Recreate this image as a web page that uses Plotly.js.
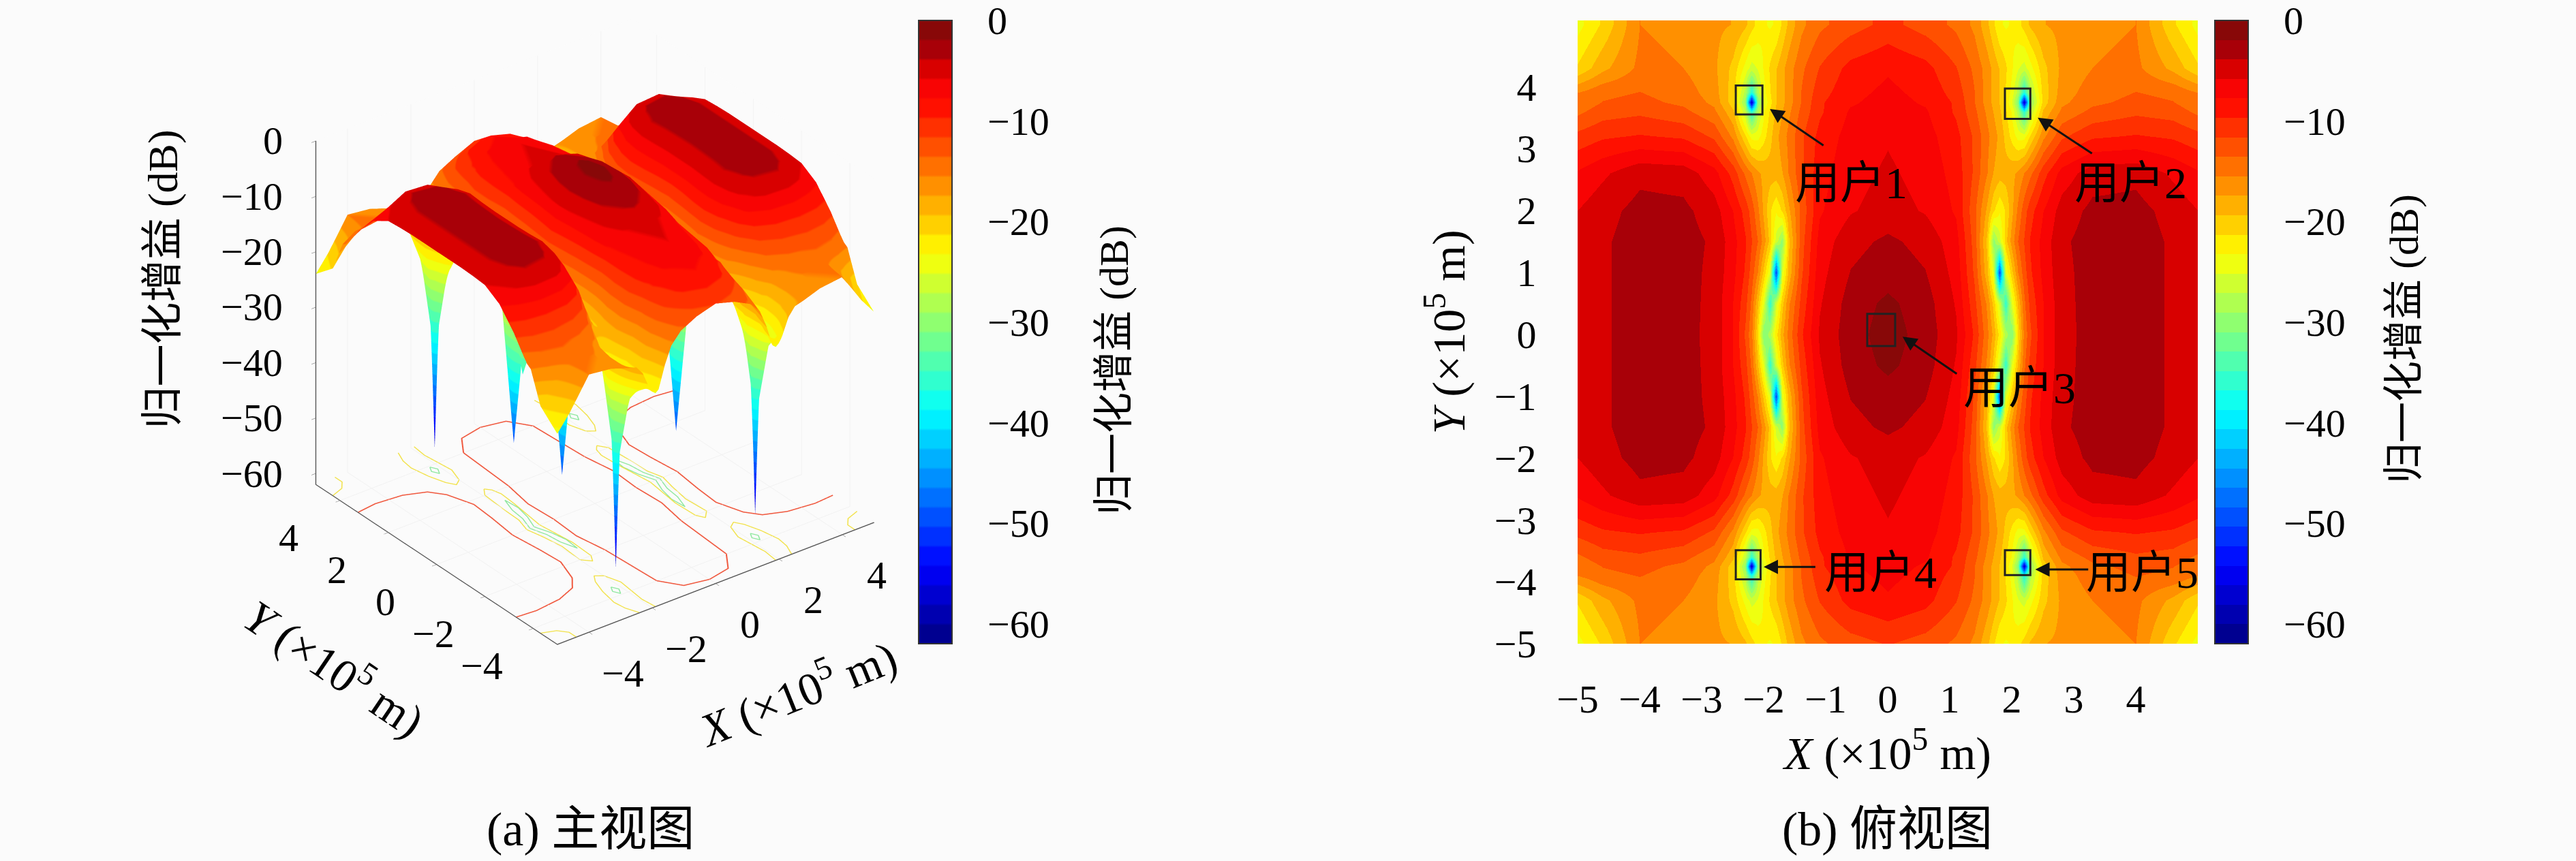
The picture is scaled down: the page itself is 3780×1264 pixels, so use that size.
<!DOCTYPE html>
<html><head><meta charset="utf-8">
<script src="https://cdn.plot.ly/plotly-3.0.1.min.js"></script>
<style>html,body{margin:0;padding:0;background:#fbfbfb}</style></head>
<body><div id="chart" style="width:3780px;height:1264px"></div>
<script>
const xNodes=[-5,-4.6,-4,-3.3,-2.8,-2.5,-2.3,-2.2,-2.1,-2,-1.9,-1.8,-1.7,-1.6,-1.4,-1.1,-0.6,0,0.6,1.1,1.4,1.6,1.7,1.8,1.9,2,2.1,2.2,2.3,2.5,2.8,3.3,4,4.6,5];
const yNodes=[-5,-4.3,-3.9,-3.75,-3.6,-3.2,-2.6,-2,-1.5,-1,-0.5,0,0.5,1,1.5,2,2.6,3.2,3.6,3.75,3.9,4.3,5];
const gainDb=[
[-24,-21,-15.5,-16,-17,-17.5,-19,-20.5,-22,-23,-23.5,-23,-21,-19,-16,-14,-12.5,-11.5,-12.5,-14,-16,-19,-21,-23,-23.5,-23,-22,-20.5,-19,-17.5,-17,-16,-15.5,-21,-24],
[-21,-18,-15,-15.5,-17,-20,-24,-26,-25,-23,-21,-19.5,-18,-16.5,-14,-11.5,-9,-8,-9,-11.5,-14,-16.5,-18,-19.5,-21,-23,-25,-26,-24,-20,-17,-15.5,-15,-18,-21],
[-15.5,-14,-13.5,-14.5,-16.5,-20.5,-28,-37,-28,-24,-21.5,-19.5,-18,-16.5,-13.5,-10.5,-8.3,-7.3,-8.3,-10.5,-13.5,-16.5,-18,-19.5,-21.5,-24,-28,-37,-28,-20.5,-16.5,-14.5,-13.5,-14,-15.5],
[-15,-13.5,-13,-14,-16,-20.5,-30,-58,-31,-25,-22,-19.5,-18,-16.5,-13.5,-10,-8,-7,-8,-10,-13.5,-16.5,-18,-19.5,-22,-25,-31,-58,-30,-20.5,-16,-14,-13,-13.5,-15],
[-14,-12.5,-12,-13,-15,-19,-27,-36,-28,-23.5,-21,-19,-17.5,-16,-13,-10,-7.5,-6.8,-7.5,-10,-13,-16,-17.5,-19,-21,-23.5,-28,-36,-27,-19,-15,-13,-12,-12.5,-14],
[-11,-10,-9.5,-10,-12,-16,-21,-24,-24,-22,-20,-18,-16.5,-15,-12,-9,-7,-6,-7,-9,-12,-15,-16.5,-18,-20,-22,-24,-24,-21,-16,-12,-10,-9.5,-10,-11],
[-7.5,-6.2,-4.4,-4.7,-7,-10.5,-14,-15.5,-17,-18,-18.5,-18.5,-17.5,-15.5,-12,-8.5,-6.5,-5.5,-6.5,-8.5,-12,-15.5,-17.5,-18.5,-18.5,-18,-17,-15.5,-14,-10.5,-7,-4.7,-4.4,-6.2,-7.5],
[-5.8,-4.6,-3.2,-3.4,-4.9,-7.8,-10.5,-12.5,-15,-18,-21,-23,-21,-18,-13,-8,-6,-5,-6,-8,-13,-18,-21,-23,-21,-18,-15,-12.5,-10.5,-7.8,-4.9,-3.4,-3.2,-4.6,-5.8],
[-5.6,-4.2,-2.9,-3.1,-4.2,-7,-9.5,-11.5,-13.5,-16.5,-20,-26,-30,-20,-12.5,-7,-4.5,-3.5,-4.5,-7,-12.5,-20,-30,-26,-20,-16.5,-13.5,-11.5,-9.5,-7,-4.2,-3.1,-2.9,-4.2,-5.6],
[-5.5,-4.2,-2.9,-3.1,-4.4,-7.2,-10,-12.5,-15.5,-20,-25,-50,-25,-19,-12,-6.5,-3.8,-2.8,-3.8,-6.5,-12,-19,-25,-50,-25,-20,-15.5,-12.5,-10,-7.2,-4.4,-3.1,-2.9,-4.2,-5.5],
[-5.5,-4.2,-2.9,-3.1,-4.5,-7.8,-11,-14,-19,-25,-36,-26,-20,-16,-11,-6,-3,-1.5,-3,-6,-11,-16,-20,-26,-36,-25,-19,-14,-11,-7.8,-4.5,-3.1,-2.9,-4.2,-5.5],
[-5.5,-4.2,-2.9,-3.2,-4.5,-7.8,-12,-15,-21,-31,-28,-22,-18,-15,-10,-5.5,-2.8,-1,-2.8,-5.5,-10,-15,-18,-22,-28,-31,-21,-15,-12,-7.8,-4.5,-3.2,-2.9,-4.2,-5.5],
[-5.5,-4.2,-2.9,-3.1,-4.5,-7.8,-11,-14,-19,-25,-36,-26,-20,-16,-11,-6,-3,-1.5,-3,-6,-11,-16,-20,-26,-36,-25,-19,-14,-11,-7.8,-4.5,-3.1,-2.9,-4.2,-5.5],
[-5.5,-4.2,-2.9,-3.1,-4.4,-7.2,-10,-12.5,-15.5,-20,-25,-50,-25,-19,-12,-6.5,-3.8,-2.8,-3.8,-6.5,-12,-19,-25,-50,-25,-20,-15.5,-12.5,-10,-7.2,-4.4,-3.1,-2.9,-4.2,-5.5],
[-5.6,-4.2,-2.9,-3.1,-4.2,-7,-9.5,-11.5,-13.5,-16.5,-20,-26,-30,-20,-12.5,-7,-4.5,-3.5,-4.5,-7,-12.5,-20,-30,-26,-20,-16.5,-13.5,-11.5,-9.5,-7,-4.2,-3.1,-2.9,-4.2,-5.6],
[-5.8,-4.6,-3.2,-3.4,-4.9,-7.8,-10.5,-12.5,-15,-18,-21,-23,-21,-18,-13,-8,-6,-5,-6,-8,-13,-18,-21,-23,-21,-18,-15,-12.5,-10.5,-7.8,-4.9,-3.4,-3.2,-4.6,-5.8],
[-7.5,-6.2,-4.4,-4.7,-7,-10.5,-14,-15.5,-17,-18,-18.5,-18.5,-17.5,-15.5,-12,-8.5,-6.5,-5.5,-6.5,-8.5,-12,-15.5,-17.5,-18.5,-18.5,-18,-17,-15.5,-14,-10.5,-7,-4.7,-4.4,-6.2,-7.5],
[-11,-10,-9.5,-10,-12,-16,-21,-24,-24,-22,-20,-18,-16.5,-15,-12,-9,-7,-6,-7,-9,-12,-15,-16.5,-18,-20,-22,-24,-24,-21,-16,-12,-10,-9.5,-10,-11],
[-14,-12.5,-12,-13,-15,-19,-27,-36,-28,-23.5,-21,-19,-17.5,-16,-13,-10,-7.5,-6.8,-7.5,-10,-13,-16,-17.5,-19,-21,-23.5,-28,-36,-27,-19,-15,-13,-12,-12.5,-14],
[-15,-13.5,-13,-14,-16,-20.5,-30,-58,-31,-25,-22,-19.5,-18,-16.5,-13.5,-10,-8,-7,-8,-10,-13.5,-16.5,-18,-19.5,-22,-25,-31,-58,-30,-20.5,-16,-14,-13,-13.5,-15],
[-15.5,-14,-13.5,-14.5,-16.5,-20.5,-28,-37,-28,-24,-21.5,-19.5,-18,-16.5,-13.5,-10.5,-8.3,-7.3,-8.3,-10.5,-13.5,-16.5,-18,-19.5,-21.5,-24,-28,-37,-28,-20.5,-16.5,-14.5,-13.5,-14,-15.5],
[-21,-18,-15,-15.5,-17,-20,-24,-26,-25,-23,-21,-19.5,-18,-16.5,-14,-11.5,-9,-8,-9,-11.5,-14,-16.5,-18,-19.5,-21,-23,-25,-26,-24,-20,-17,-15.5,-15,-18,-21],
[-24,-21,-15.5,-16,-17,-17.5,-19,-20.5,-22,-23,-23.5,-23,-21,-19,-16,-14,-12.5,-11,-12.5,-14,-16,-19,-21,-23,-23.5,-23,-22,-20.5,-19,-17.5,-17,-16,-15.5,-21,-24]];
const bandColors=["000090","0000b0","0000d0","0000f0","0010ff","0030ff","0050ff","0070ff","0090ff","00b0ff","00d0ff","00f0ff","10ffef","30ffcf","50ffaf","70ff8f","8fff70","afff50","cfff30","efff10","fff000","ffd000","ffb000","ff9000","ff7000","ff5000","ff3000","ff1000","f80404","d80000","a80008","880808"];
const cbTicks=[0,-10,-20,-30,-40,-50,-60];
const zTicks=[0,-10,-20,-30,-40,-50,-60];
const xTicks3d=[-4,-2,0,2,4];
const yTicks3d=[4,2,0,-2,-4];
const xTicks2d=[-5,-4,-3,-2,-1,0,1,2,3,4];
const yTicks2d=[-5,-4,-3,-2,-1,0,1,2,3,4];
const c10x=[-5,-4.4,-3.6,-3,-2.7,-2.45,-2.5,-2.6,-2.5,-2.45,-2.7,-3,-3.6,-4.4,-5,null,0,-0.7,-1.1,-1.15,-1.2,-1.35,-1.3,-1.35,-1.2,-1.15,-1.1,-0.7,0,0.7,1.1,1.15,1.2,1.35,1.3,1.35,1.2,1.15,1.1,0.7,0,null,5,4.4,3.6,3,2.7,2.45,2.5,2.6,2.5,2.45,2.7,3,3.6,4.4,5];
const c10y=[3.25,3.33,3.25,3,2.6,1.8,1,0,-1,-1.8,-2.6,-3,-3.25,-3.35,-3.3,null,4.75,4.6,4,3,2,1,0,-1,-2,-3,-4,-4.6,-4.75,-4.6,-4,-3,-2,-1,0,1,2,3,4,4.6,4.75,null,3.25,3.33,3.25,3,2.6,1.8,1,0,-1,-1.8,-2.6,-3,-3.25,-3.35,-3.3];
const c20x=[-1.9,-1.95,-1.9,-1.85,-2,-2.2,-2.35,-2.5,-2.6,-2.55,-2.4,null,1.9,1.95,1.9,1.85,2,2.2,2.35,2.5,2.6,2.55,2.4,null,-1.9,-1.95,-1.9,-1.85,-2,-2.2,-2.35,-2.5,-2.6,-2.55,-2.4,null,1.9,1.95,1.9,1.85,2,2.2,2.35,2.5,2.6,2.55,2.4,null,-1.78,-1.95,-2,-2.02,-2.15,-2.05,-1.95,-2,-1.78,-1.65,-1.62,-1.75,-1.62,-1.58,-1.65,-1.78,null,1.78,1.95,2,2.02,2.15,2.05,1.95,2,1.78,1.65,1.62,1.75,1.62,1.58,1.65,1.78,null,-5,-4.6,-4.4,-4.4,null,5,4.6,4.4,4.4,null,-5,-4.6,-4.4,-4.4,null,5,4.6,4.4,4.4];
const c20y=[5,4.5,4,3.5,3,2.85,3.1,3.6,4.2,4.6,5,null,5,4.5,4,3.5,3,2.85,3.1,3.6,4.2,4.6,5,null,-5,-4.5,-4,-3.5,-3,-2.85,-3.1,-3.6,-4.2,-4.6,-5,null,-5,-4.5,-4,-3.5,-3,-2.85,-3.1,-3.6,-4.2,-4.6,-5,null,2.26,2,1.2,0.5,0,-0.5,-1.2,-2,-2.24,-2,-1.2,0,1.2,1.8,2.1,2.26,null,2.26,2,1.2,0.5,0,-0.5,-1.2,-2,-2.24,-2,-1.2,0,1.2,1.8,2.1,2.26,null,4.3,4.45,4.7,5,null,4.3,4.45,4.7,5,null,-4.3,-4.45,-4.7,-5,null,-4.3,-4.45,-4.7,-5];
const c30x=[-1.7,-1.85,-1.9,-2.05,-1.9,-1.85,-1.7,-1.66,-1.75,-1.92,-1.75,-1.66,-1.7,null,1.7,1.85,1.9,2.05,1.9,1.85,1.7,1.66,1.75,1.92,1.75,1.66,1.7,null,-2.2,-2.1,-2.2,-2.3,-2.2,null,2.2,2.1,2.2,2.3,2.2,null,-2.2,-2.1,-2.2,-2.3,-2.2,null,2.2,2.1,2.2,2.3,2.2];
const c30y=[1.5,1,0.5,0,-0.5,-1,-1.5,-1,-0.5,0,0.5,1,1.5,null,1.5,1,0.5,0,-0.5,-1,-1.5,-1,-0.5,0,0.5,1,1.5,null,3.95,3.75,3.55,3.75,3.95,null,3.95,3.75,3.55,3.75,3.95,null,-3.55,-3.75,-3.95,-3.75,-3.55,null,-3.55,-3.75,-3.95,-3.75,-3.55];
const userBoxes=[[-2.45,-2.02,3.55,4.02],[1.89,2.3,3.48,3.97],[-0.33,0.12,-0.19,0.33],[-2.45,-2.05,-3.96,-3.49],[1.89,2.3,-3.89,-3.49]];
const userArrows=[[-1.02,3.04,-1.9,3.64],[3.31,2.91,2.42,3.5],[1.13,-0.65,0.24,-0.04],[-1.15,-3.76,-2,-3.76],[3.25,-3.8,2.38,-3.8]];
const userLabels=[["用户1",-0.59,2.44],["用户2",3.92,2.44],["用户3",2.13,-0.87],["用户4",-0.12,-3.85],["用户5",4.1,-3.85]];

const W=3780,H=1264;
const px=v=>v/W, py=v=>1-v/H;
const scale=[];bandColors.forEach((c,i)=>{scale.push([i/32,'#'+c]);scale.push([(i+1)/32,'#'+c]);});
const glScale=[];bandColors.forEach((c,i)=>{glScale.push([(8*i+0.5)/256,'#'+c]);glScale.push([(8*i+7.5)/256,'#'+c]);});
glScale[0][0]=0;glScale[glScale.length-1][0]=1;
const FONT='Liberation Serif, Noto Sans CJK SC, serif';
const tf={family:FONT,size:58,color:'#000'};
const tfBig={family:FONT,size:68,color:'#000'};
function cb(left){return {x:px(left),xanchor:'left',xpad:0,y:py(30),yanchor:'top',ypad:0,len:915,lenmode:'pixels',thickness:49,thicknessmode:'pixels',
 outlinewidth:2,outlinecolor:'#333',tick0:0,dtick:10,ticks:'outside',ticklen:40,tickcolor:'rgba(0,0,0,0)',tickfont:tf,ticklabeloverflow:'allow'};}
const surf={type:'surface',x:xNodes,y:yNodes,z:gainDb,cmin:-62,cmax:0,colorscale:glScale,colorbar:cb(1348),
 lighting:{ambient:1,diffuse:0,specular:0,roughness:1,fresnel:0},hoverinfo:'skip',showscale:true,scene:'scene'};
const floorLine=(x,y,c,w)=>({type:'scatter3d',mode:'lines',x,y,z:x.map(v=>v===null?null:-62),line:{color:c,width:w},hoverinfo:'skip',showlegend:false,connectgaps:false,scene:'scene'});
const heat={type:'heatmap',x:xNodes,y:yNodes,z:gainDb,zmin:-62,zmax:0,zsmooth:'best',colorscale:scale,colorbar:cb(3250),xaxis:'x',yaxis:'y',hoverinfo:'skip'};
const ax3={showbackground:true,backgroundcolor:'#fbfbfb',showgrid:true,gridcolor:'#f1f1f1',gridwidth:2,showline:true,linecolor:'#555',linewidth:3,ticks:'outside',ticklen:8,tickcolor:'#555',showticklabels:false,zeroline:false,showspikes:false,title:{text:''}};
const shapes=[];
userBoxes.forEach(b=>shapes.push({type:'rect',xref:'x',yref:'y',x0:b[0],x1:b[1],y0:b[2],y1:b[3],line:{color:'#222',width:3}}));
[1397,3299].forEach(r=>cbTicks.forEach(v=>shapes.push({type:'line',xref:'paper',yref:'paper',x0:px(r-10),x1:px(r),y0:py(30+(-v/62)*915),y1:py(30+(-v/62)*915),line:{color:'#333',width:2}})));
const anns=[];
userArrows.forEach(a=>anns.push({xref:'x',yref:'y',axref:'x',ayref:'y',ax:a[0],ay:a[1],x:a[2],y:a[3],text:'',showarrow:true,arrowhead:2,arrowsize:1.4,arrowwidth:3,arrowcolor:'#111',standoff:0}));
userLabels.forEach(l=>anns.push({xref:'x',yref:'y',x:l[1],y:l[2],text:l[0],showarrow:false,font:{family:FONT,size:66,color:'#000'}}));
const t=(text,x,y,ang,size)=>({xref:'paper',yref:'paper',x:px(x),y:py(y),text,showarrow:false,textangle:ang||0,font:{family:FONT,size:size||60,color:'#000'},xanchor:'center',yanchor:'middle'});
anns.push(t('归一化增益 (dB)',1635,544,-90),t('归一化增益 (dB)',3528,498,-90),t('(a) 主视图',866,1217,0,70),t('(b) 俯视图',2769,1217,0,70));
const sceneAnn=[];
const fmt=v=>v<0?'−'+(-v):String(v);
const sa=(x,y,z,text,xs,ys,extra)=>Object.assign({x,y,z,text,showarrow:false,xshift:xs,yshift:ys,font:tf,xanchor:'center',yanchor:'middle'},extra||{});
xTicks3d.forEach(v=>sceneAnn.push(sa(v,-5,-62,fmt(v),50,-60)));
yTicks3d.forEach(v=>sceneAnn.push(sa(-5,v,-62,fmt(v),-75,-55)));
zTicks.forEach(v=>sceneAnn.push(sa(-5,5,v,fmt(v),-46,0,{xanchor:'right'})));
sceneAnn.push(sa(0,-5,-62,'<i>X</i> (×10<sup>5</sup> m)',118,-158,{textangle:-22,font:tfBig}));
sceneAnn.push(sa(-5,0,-62,'<i>Y</i> (×10<sup>5</sup> m)',-148,-149,{textangle:34,font:tfBig}));
sceneAnn.push(sa(-5,5,-31,'归一化增益 (dB)',-224,49,{textangle:-90,font:{family:FONT,size:62,color:'#000'}}));
const R=1.7,A=1.2;
const layout={width:W,height:H,margin:{l:0,r:0,t:0,b:0},paper_bgcolor:'#fbfbfb',plot_bgcolor:'#fbfbfb',showlegend:false,
 scene:{domain:{x:[px(173),px(1573)],y:[py(974),1]},aspectmode:'manual',aspectratio:{x:A,y:A,z:A},
  camera:{projection:{type:'orthographic'},up:{x:0,y:0,z:1},center:{x:0,y:0,z:0},eye:{x:-0.523*R,y:-0.686*R,z:0.505*R}},
  xaxis:{...ax3,range:[-5,5],tickvals:xTicks3d},
  yaxis:{...ax3,range:[-5,5],tickvals:yTicks3d},
  zaxis:{...ax3,range:[-62,0],tickvals:zTicks,showgrid:false},annotations:sceneAnn},
 xaxis:{domain:[px(2315),px(3225)],range:[-5,5],tickvals:xTicks2d,ticks:'outside',ticklen:30,tickcolor:'rgba(0,0,0,0)',showgrid:false,zeroline:false,showline:false,tickfont:tf,title:{text:'<i>X</i> (×10<sup>5</sup> m)',font:tfBig,standoff:20},anchor:'y'},
 yaxis:{domain:[py(945),py(30)],range:[-5,5.07],tickvals:yTicks2d,ticks:'outside',ticklen:48,tickcolor:'rgba(0,0,0,0)',showgrid:false,zeroline:false,showline:false,tickfont:tf,title:{text:'<i>Y</i> (×10<sup>5</sup> m)',font:tfBig,standoff:20},anchor:'x'},
 shapes,annotations:anns};
Plotly.newPlot('chart',[surf,floorLine(c10x,c10y,'#f05a40',4),floorLine(c20x,c20y,'#f2e24a',3),floorLine(c30x,c30y,'#90e8a0',3),heat],layout,{displayModeBar:false});
</script></body></html>
